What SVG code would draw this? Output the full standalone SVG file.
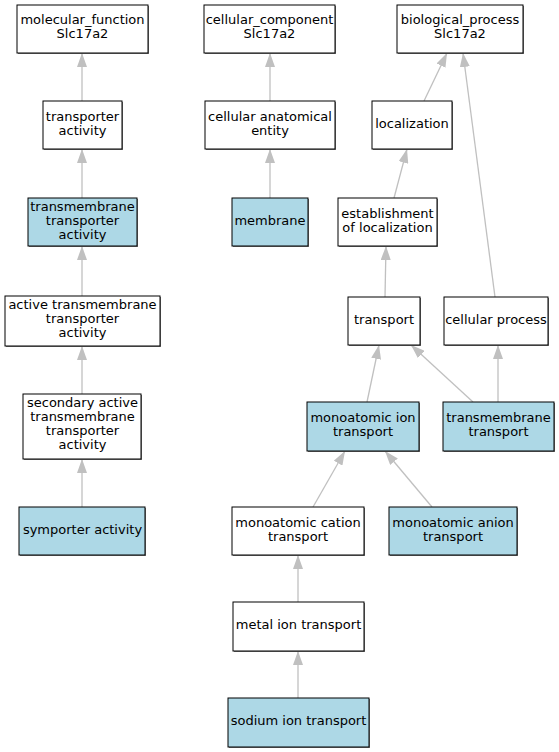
<svg xmlns="http://www.w3.org/2000/svg" width="559" height="752" viewBox="0 0 559 752">
<defs>
<marker id="arr" markerUnits="userSpaceOnUse" markerWidth="14" markerHeight="10" refX="14" refY="5" orient="auto">
<path d="M0,0 L14,5 L0,10 z" fill="#c0c0c0"/>
</marker>
<style>
.n rect.b{fill:#ffffff;stroke:#000;stroke-width:1}
.n.h rect.b{fill:#add8e6}
.n rect.s{fill:#7a7a7a;stroke:none}
.n text{font-family:"DejaVu Sans",sans-serif;font-size:13px;fill:#000;text-anchor:middle}
#edges line{stroke:#c0c0c0;stroke-width:1.3;marker-end:url(#arr)}
</style>
</defs>
<rect width="559" height="752" fill="#fff"/>
<g id="edges">
<line x1="82" y1="101" x2="82" y2="53"/>
<line x1="82" y1="198" x2="82" y2="149"/>
<line x1="82" y1="296" x2="82" y2="246"/>
<line x1="82" y1="394" x2="82" y2="346"/>
<line x1="82" y1="507" x2="82" y2="459"/>
<line x1="270" y1="101" x2="270" y2="53"/>
<line x1="270" y1="198" x2="270" y2="149"/>
<line x1="424" y1="101" x2="447" y2="53"/>
<line x1="495" y1="297" x2="463" y2="53"/>
<line x1="394" y1="198" x2="407" y2="149"/>
<line x1="385" y1="297" x2="386" y2="246"/>
<line x1="367" y1="402" x2="379" y2="345"/>
<line x1="473" y1="402" x2="411" y2="345"/>
<line x1="498" y1="402" x2="498" y2="345"/>
<line x1="313" y1="507" x2="345" y2="451"/>
<line x1="432" y1="507" x2="385" y2="451"/>
<line x1="298" y1="602" x2="298" y2="555"/>
<line x1="298" y1="698" x2="298" y2="651"/>
</g>
<g id="mf" class="n"><rect class="s" x="18" y="6" width="131" height="48"/><rect class="b" x="17" y="5" width="131" height="48"/><text x="82.5" y="23.5">molecular_function</text><text x="82.5" y="37.5">Slc17a2</text></g>
<g id="ta" class="n"><rect class="s" x="44" y="102" width="79" height="48"/><rect class="b" x="43" y="101" width="79" height="48"/><text x="82.5" y="120.5">transporter</text><text x="82.5" y="134.5">activity</text></g>
<g id="tmta" class="n h"><rect class="s" x="29" y="199" width="109" height="48"/><rect class="b" x="28" y="198" width="109" height="48"/><text x="82.5" y="210.5">transmembrane</text><text x="82.5" y="224.5">transporter</text><text x="82.5" y="238.5">activity</text></g>
<g id="atta" class="n"><rect class="s" x="6" y="297" width="155" height="50"/><rect class="b" x="5" y="296" width="155" height="50"/><text x="82.5" y="308.5">active transmembrane</text><text x="82.5" y="322.5">transporter</text><text x="82.5" y="336.5">activity</text></g>
<g id="sata" class="n"><rect class="s" x="24" y="395" width="118" height="65"/><rect class="b" x="23" y="394" width="118" height="65"/><text x="82.5" y="407">secondary active</text><text x="82.5" y="421">transmembrane</text><text x="82.5" y="435">transporter</text><text x="82.5" y="449">activity</text></g>
<g id="sym" class="n h"><rect class="s" x="20" y="508" width="126" height="48"/><rect class="b" x="19" y="507" width="126" height="48"/><text x="82.5" y="533.5">symporter activity</text></g>
<g id="cc" class="n"><rect class="s" x="205" y="6" width="131" height="48"/><rect class="b" x="204" y="5" width="131" height="48"/><text x="269.5" y="23.5">cellular_component</text><text x="269.5" y="37.5">Slc17a2</text></g>
<g id="cae" class="n"><rect class="s" x="206" y="102" width="130" height="48"/><rect class="b" x="205" y="101" width="130" height="48"/><text x="270" y="120.5">cellular anatomical</text><text x="270" y="134.5">entity</text></g>
<g id="mem" class="n h"><rect class="s" x="233" y="199" width="76" height="48"/><rect class="b" x="232" y="198" width="76" height="48"/><text x="270" y="224.5">membrane</text></g>
<g id="bp" class="n"><rect class="s" x="398" y="6" width="126" height="48"/><rect class="b" x="397" y="5" width="126" height="48"/><text x="460" y="23.5">biological_process</text><text x="460" y="37.5">Slc17a2</text></g>
<g id="loc" class="n"><rect class="s" x="373" y="102" width="80" height="48"/><rect class="b" x="372" y="101" width="80" height="48"/><text x="412" y="127.5">localization</text></g>
<g id="eol" class="n"><rect class="s" x="339" y="199" width="99" height="48"/><rect class="b" x="338" y="198" width="99" height="48"/><text x="387.5" y="217.5">establishment</text><text x="387.5" y="231.5">of localization</text></g>
<g id="tr" class="n"><rect class="s" x="349" y="298" width="72" height="48"/><rect class="b" x="348" y="297" width="72" height="48"/><text x="384" y="323.5">transport</text></g>
<g id="cp" class="n"><rect class="s" x="445" y="298" width="104" height="48"/><rect class="b" x="444" y="297" width="104" height="48"/><text x="496" y="323.5">cellular process</text></g>
<g id="mit" class="n h"><rect class="s" x="308" y="403" width="112" height="49"/><rect class="b" x="307" y="402" width="112" height="49"/><text x="363" y="421.5">monoatomic ion</text><text x="363" y="435.5">transport</text></g>
<g id="tmt" class="n h"><rect class="s" x="444" y="403" width="111" height="49"/><rect class="b" x="443" y="402" width="111" height="49"/><text x="498.5" y="421.5">transmembrane</text><text x="498.5" y="435.5">transport</text></g>
<g id="mct" class="n"><rect class="s" x="233" y="508" width="132" height="48"/><rect class="b" x="232" y="507" width="132" height="48"/><text x="298" y="526.5">monoatomic cation</text><text x="298" y="540.5">transport</text></g>
<g id="mat" class="n h"><rect class="s" x="390" y="508" width="128" height="48"/><rect class="b" x="389" y="507" width="128" height="48"/><text x="453" y="526.5">monoatomic anion</text><text x="453" y="540.5">transport</text></g>
<g id="metal" class="n"><rect class="s" x="234" y="603" width="131" height="49"/><rect class="b" x="233" y="602" width="131" height="49"/><text x="298.5" y="629">metal ion transport</text></g>
<g id="sod" class="n h"><rect class="s" x="229" y="699" width="141" height="49"/><rect class="b" x="228" y="698" width="141" height="49"/><text x="298.5" y="725">sodium ion transport</text></g>
</svg>
